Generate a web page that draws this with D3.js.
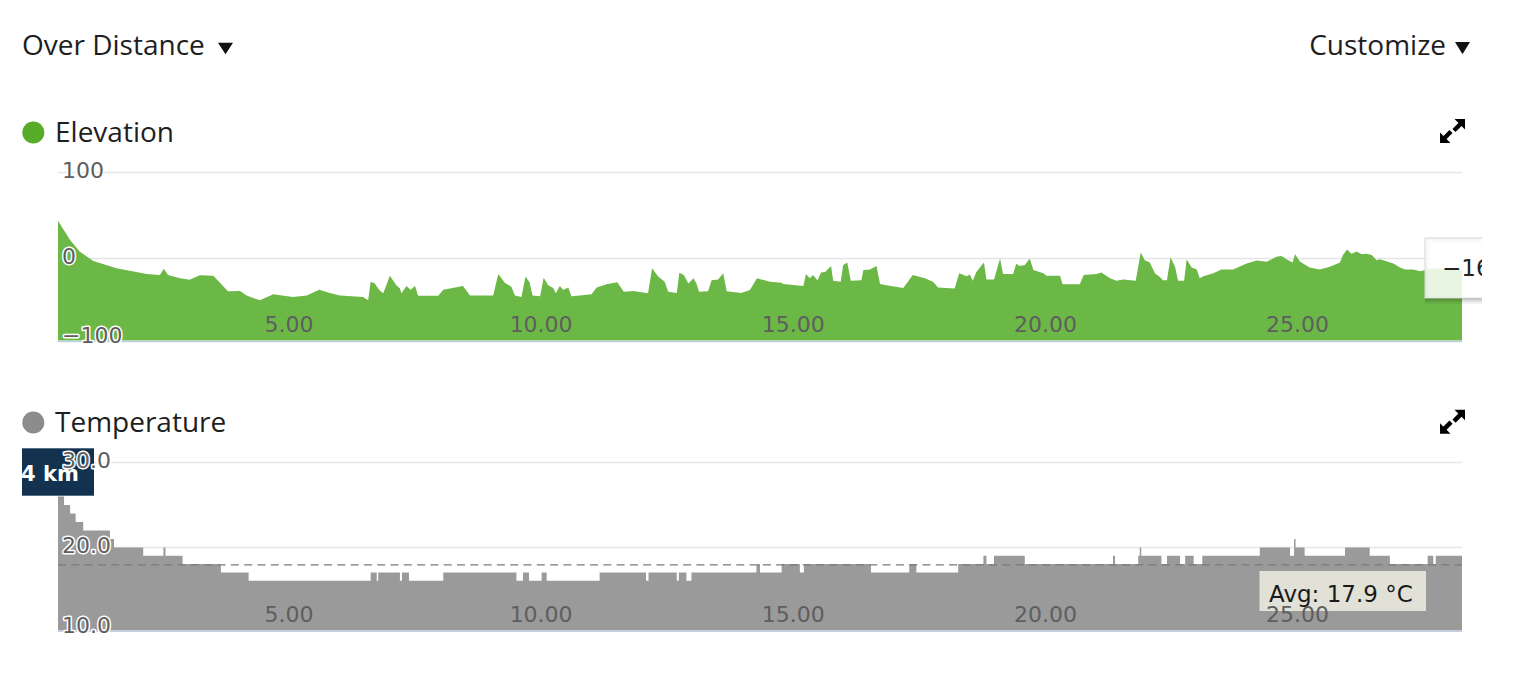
<!DOCTYPE html>
<html>
<head>
<meta charset="utf-8">
<script src="https://cdn.jsdelivr.net/npm/d3@7"></script>
<style>
  html, body { margin: 0; padding: 0; background: #fff; }
  svg { display: block; }
</style>
</head>
<body>
<svg id="chart" width="1540" height="682"></svg>
<script>
// ---------------- DATA ----------------
const distanceDomain = [0.42, 28.26];
const xTicks = [5, 10, 15, 20, 25];
const elevTicks = [-100, 0, 100];
const tempTicks = [10, 20, 30];
const avgTemp = 17.9;
const hoverElevation = -16;
const hoverDistanceLabel = "4 km";

const elevKm = [0.42,0.66,0.85,1.12,1.58,2.18,2.44,2.52,2.60,2.84,3.03,3.23,3.50,3.79,4.03,4.16,4.42,4.69,5.08,5.35,5.60,5.81,6.01,6.47,6.57,6.62,6.70,6.79,6.87,7.00,7.13,7.20,7.23,7.33,7.41,7.50,7.56,7.96,8.06,8.45,8.59,9.05,9.15,9.28,9.41,9.48,9.61,9.69,9.77,9.83,9.98,10.05,10.14,10.24,10.29,10.37,10.44,10.54,10.60,10.77,11.00,11.10,11.30,11.51,11.64,11.83,12.12,12.20,12.32,12.45,12.52,12.69,12.74,12.83,12.92,13.02,13.08,13.13,13.31,13.38,13.51,13.61,13.68,13.97,14.14,14.28,14.54,14.77,14.80,15.20,15.25,15.33,15.39,15.48,15.55,15.63,15.75,15.79,15.94,15.99,16.07,16.14,16.35,16.39,16.52,16.65,16.72,16.85,17.18,17.37,17.61,17.77,17.87,18.20,18.29,18.44,18.50,18.56,18.63,18.78,18.83,18.98,19.10,19.16,19.36,19.42,19.49,19.59,19.69,19.76,19.96,20.02,20.29,20.34,20.68,20.76,21.01,21.11,21.28,21.41,21.54,21.79,21.89,21.97,22.07,22.17,22.27,22.33,22.41,22.48,22.57,22.63,22.75,22.80,22.90,23.00,23.06,23.13,23.33,23.49,23.72,23.99,24.19,24.39,24.58,24.68,24.78,24.90,24.95,25.05,25.24,25.44,25.64,25.84,25.90,25.98,26.07,26.17,26.27,26.37,26.47,26.57,26.63,26.76,26.90,27.03,27.13,27.29,27.43,27.69,28.26];
const elevM = [44,21.5,8,-3,-12,-19,-20,-12.5,-20,-24,-26,-20.5,-21,-40,-39.5,-45,-51,-43.5,-47,-45,-38,-42,-45,-47,-51,-28.5,-30.5,-38.5,-42.5,-21,-32.5,-36.5,-42.5,-33.5,-38,-33.5,-45.5,-45.5,-38,-33.5,-45,-45,-19,-29.5,-34.5,-45,-47,-22,-29,-45,-46,-23.5,-32.5,-36,-42.5,-33.5,-38.5,-35.5,-46,-45,-43.5,-35.5,-31.5,-29,-40.5,-39.5,-42.5,-12,-22,-28.5,-40.5,-42,-17.5,-20,-30.5,-24,-30.5,-40.5,-40,-26.5,-25.5,-18,-40,-42,-38.5,-24,-28.5,-29.5,-31,-33.5,-19,-24,-20,-26.5,-17,-16.5,-9,-27,-28.5,-8,-5,-27,-26.5,-14,-13.5,-9,-31,-32.5,-36,-20,-24,-28.5,-35.5,-36.5,-18,-21.5,-19.5,-27,-16.5,-5,-25.5,-25.5,0,-19,-19,-6.5,-9,-8,0,-14,-18,-21,-21,-31.5,-31.5,-20,-19,-17,-24,-27,-25.5,-27,7,-2,-5,-18,-22.5,-26.5,-26.5,1.5,-10,-27,-27,-1,-11,-13.5,-24,-21.5,-18,-13.5,-13.5,-6,-2.5,-4,2,3,-1,-5,5,-4,-11,-13.5,-10,-5,4,10.5,5.5,8,5,5.5,4,-2,-1,-3.5,-6,-11,-13.5,-13.5,-15.5,-12,-13.5];

const tempKm = [0.42,0.54,0.66,0.77,0.92,1.45,1.53,2.11,2.51,2.55,2.89,3.65,4.20,6.62,6.74,6.77,7.20,7.24,7.38,8.06,9.51,9.64,9.76,10.01,10.11,11.16,12.08,12.13,12.69,12.73,12.88,12.98,14.27,14.34,14.77,15.13,15.21,16.54,17.30,17.44,18.27,18.77,18.83,18.98,19.59,21.34,21.38,21.84,21.87,21.90,22.30,22.41,22.67,22.77,22.94,23.11,24.25,24.85,24.93,24.96,25.14,25.94,26.43,26.83,27.58,27.69,27.74,28.26];
const tempC = [26,25,24,23,22,21,20,19,20,19,18,17,16,17,16,17,16,17,16,17,16,17,16,17,16,17,16,17,16,17,16,17,18,17,18,17,18,17,18,17,18,19,18,19,18,19,18,19,20,19,18,19,18,19,18,19,20,19,21,20,19,20,19,18,19,18,19,19];

// ---------------- LAYOUT ----------------
const svg = d3.select("#chart");
const plotLeft = 58, plotRight = 1462;
const x = d3.scaleLinear().domain(distanceDomain).range([plotLeft, plotRight]);

const elevY = d3.scaleLinear().domain([-100, 0, 100]).range([340.5, 258.5, 172.5]);
const tempY = d3.scaleLinear().domain([10, 20, 30]).range([630.5, 547.5, 462.5]);

const defs = svg.append("defs");
defs.append("clipPath").attr("id", "container")
  .append("rect").attr("x", 22).attr("y", 0).attr("width", 1460).attr("height", 682);

const root = svg.append("g").attr("clip-path", "url(#container)");

const titleFont = "'Open Sans', 'Noto Sans', sans-serif";
const axisFont = "'DejaVu Sans', Verdana, sans-serif";

// Header
root.append("text").attr("x", 22).attr("y", 54.5)
  .attr("font-family", titleFont).attr("font-size", 28).attr("fill", "#1e1e1e")
  .text("Over Distance");
root.append("path").attr("d", "M218,42.7 L233,42.7 L225.5,54.3 Z").attr("fill", "#111");
root.append("text").attr("x", 1446).attr("y", 54.5).attr("text-anchor", "end")
  .attr("font-family", titleFont).attr("font-size", 28).attr("fill", "#1e1e1e")
  .text("Customize");
root.append("path").attr("d", "M1455,42 L1470,42 L1462.5,54.3 Z").attr("fill", "#111");

function expandIcon(cx, cy) {
  const g = root.append("g").attr("fill", "#000");
  g.append("path").attr("d", `M${cx+12.5},${cy-12} L${cx+12.5},${cy-1.5} L${cx+2},${cy-12} Z`);
  g.append("line").attr("x1", cx+8.5).attr("y1", cy-7.5).attr("x2", cx+1.5).attr("y2", cy-0.5)
    .attr("stroke", "#000").attr("stroke-width", 4.5);
  g.append("path").attr("d", `M${cx-12.5},${cy+12} L${cx-12.5},${cy+1.5} L${cx-2},${cy+12} Z`);
  g.append("line").attr("x1", cx-8.5).attr("y1", cy+7.5).attr("x2", cx-1.5).attr("y2", cy+0.5)
    .attr("stroke", "#000").attr("stroke-width", 4.5);
}

function legendTitle(cy, color, label) {
  root.append("circle").attr("cx", 33.3).attr("cy", cy).attr("r", 11).attr("fill", color);
  root.append("text").attr("x", 55).attr("y", cy + 9)
    .attr("font-family", titleFont).attr("font-size", 28).attr("fill", "#1e1e1e")
    .text(label);
}

function grid(g, y, ticks, bottom) {
  g.selectAll("line.grid").data(ticks.filter(t => y(t) < bottom - 1)).join("line")
    .attr("class", "grid")
    .attr("x1", plotLeft).attr("x2", plotRight)
    .attr("y1", d => y(d)).attr("y2", d => y(d))
    .attr("stroke", "#e6e6e6").attr("stroke-width", 1.3);
}

function xLabels(g, baseline) {
  const fmt = d3.format(".2f");
  g.selectAll("text.xl").data(xTicks).join("text")
    .attr("class", "xl")
    .attr("x", d => x(d)).attr("y", baseline)
    .attr("text-anchor", "middle")
    .attr("font-family", axisFont).attr("font-size", 22).attr("fill", "#5e5e5e")
    .text(d => fmt(d));
}

function yLabels(g, y, ticks, fmt, bottom) {
  g.selectAll("text.yl").data(ticks).join("text")
    .attr("class", "yl")
    .attr("x", 62).attr("y", d => Math.min(y(d) + 5, bottom + 2))
    .attr("font-family", axisFont).attr("font-size", 22).attr("fill", "#5e5e5e")
    .attr("stroke", "#fff").attr("stroke-width", 3).attr("stroke-linejoin", "round")
    .attr("paint-order", "stroke")
    .text(d => fmt(d));
}

// ---------------- ELEVATION ----------------
legendTitle(132.5, "#57ad28", "Elevation");
expandIcon(1452.5, 131);

const eg = root.append("g");
const elevBottom = 340.5;
grid(eg, elevY, elevTicks, elevBottom);
const elevData = elevKm.map((k, i) => [k, elevM[i]]);
eg.append("path")
  .datum(elevData)
  .attr("fill", "#6cb847")
  .attr("d", d3.area().x(d => x(d[0])).y0(elevBottom).y1(d => elevY(d[1])).curve(d3.curveLinear));
eg.append("line").attr("x1", plotLeft).attr("x2", plotRight)
  .attr("y1", elevBottom + 1).attr("y2", elevBottom + 1)
  .attr("stroke", "#c0d0e0").attr("stroke-width", 1.6);
xLabels(eg, 332);
yLabels(eg, elevY, elevTicks, d3.format("d"), elevBottom);

// hover tooltip on the right edge
const tip = eg.append("g");
const tx = 1425, ty = 238, tw = 80, th = 60;
[[3, 0.05], [2, 0.08], [1, 0.12]].forEach(([o, a]) => {
  tip.append("rect").attr("x", tx + o).attr("y", ty + o).attr("width", tw).attr("height", th)
    .attr("fill", "none").attr("stroke", "#000").attr("stroke-opacity", a).attr("stroke-width", 2 * o);
});
tip.append("rect").attr("x", tx).attr("y", ty).attr("width", tw).attr("height", th)
  .attr("fill", "rgba(255,255,255,0.85)").attr("stroke", "#d8d8d8").attr("stroke-width", 1);
tip.append("text").attr("x", 1442).attr("y", 276)
  .attr("font-family", axisFont).attr("font-size", 23).attr("fill", "#222")
  .text(d3.format("d")(hoverElevation));

// ---------------- TEMPERATURE ----------------
legendTitle(422.5, "#8c8c8c", "Temperature");
expandIcon(1452.5, 421.7);

const tg = root.append("g");
const tempBottom = 630.5;
grid(tg, tempY, tempTicks, tempBottom);
const tempData = tempKm.map((k, i) => [k, tempC[i]]);
tg.append("path")
  .datum(tempData)
  .attr("fill", "#9a9a9a")
  .attr("d", d3.area().x(d => x(d[0])).y0(tempBottom).y1(d => tempY(d[1])).curve(d3.curveStepAfter));
tg.append("line").attr("x1", plotLeft).attr("x2", plotRight)
  .attr("y1", tempBottom + 0.8).attr("y2", tempBottom + 0.8)
  .attr("stroke", "#c0d0e0").attr("stroke-width", 1.6);
tg.append("line").attr("x1", plotLeft).attr("x2", plotRight)
  .attr("y1", tempY(avgTemp)).attr("y2", tempY(avgTemp))
  .attr("stroke", "#7a7a7a").attr("stroke-width", 1.3).attr("stroke-dasharray", "8,5.3");

// avg label
tg.append("rect").attr("x", 1259.5).attr("y", 571).attr("width", 166.5).attr("height", 40)
  .attr("fill", "#e1e1d8");
tg.append("text").attr("x", 1269).attr("y", 602)
  .attr("font-family", axisFont).attr("font-size", 23).attr("fill", "#1a1a1a")
  .text("Avg: " + avgTemp.toFixed(1) + " °C");

xLabels(tg, 622);

// distance hover box
tg.append("rect").attr("x", 22).attr("y", 448.3).attr("width", 72).attr("height", 47.4)
  .attr("fill", "#13324f");
tg.append("text").attr("x", 21).attr("y", 481)
  .attr("font-family", axisFont).attr("font-size", 21).attr("font-weight", "bold").attr("fill", "#fff")
  .text(hoverDistanceLabel);

yLabels(tg, tempY, tempTicks, d3.format(".1f"), tempBottom);
</script>
</body>
</html>
